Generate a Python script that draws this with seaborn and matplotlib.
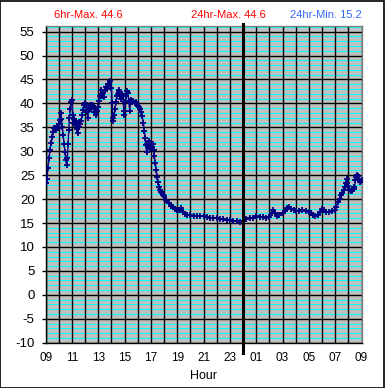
import matplotlib
matplotlib.use("Agg")
import matplotlib.pyplot as plt
from matplotlib.patches import Rectangle
import seaborn as sns
import pandas as pd

# readings, clock time (rolls over midnight) and temperature
clock = [
    "09:00", "09:05", "09:10", "09:15", "09:20", "09:25", "09:30", "09:35", "09:40", "09:45",
    "09:50", "09:55", "10:00", "10:05", "10:08", "10:12", "10:16", "10:20", "10:24", "10:28",
    "10:32", "10:36", "10:39", "10:42", "10:45", "10:48", "10:52", "10:56", "11:00", "11:03",
    "11:06", "11:10", "11:14", "11:18", "11:22", "11:26", "11:30", "11:34", "11:38", "11:42",
    "11:46", "11:50", "11:55", "12:00", "12:04", "12:08", "12:12", "12:16", "12:20", "12:25",
    "12:30", "12:35", "12:40", "12:45", "12:50", "12:55", "13:00", "13:04", "13:08", "13:12",
    "13:16", "13:20", "13:25", "13:30", "13:35", "13:40", "13:45", "13:50", "13:55", "14:00",
    "14:03", "14:06", "14:09", "14:12", "14:16", "14:20", "14:24", "14:28", "14:32", "14:36",
    "14:40", "14:44", "14:48", "14:52", "14:56", "14:59", "15:03", "15:07", "15:11", "15:15",
    "15:19", "15:23", "15:27", "15:31", "15:35", "15:40", "15:45", "15:50", "15:55", "16:00",
    "16:05", "16:10", "16:15", "16:20", "16:25", "16:30", "16:33", "16:36", "16:40", "16:44",
    "16:48", "16:52", "16:56", "17:00", "17:04", "17:08", "17:12", "17:16", "17:20", "17:24",
    "17:28", "17:32", "17:36", "17:40", "17:45", "17:50", "17:55", "18:00", "18:10", "18:20",
    "18:30", "18:40", "18:50", "19:00", "19:10", "19:17", "19:25", "19:35", "19:45", "20:00",
    "20:15", "20:30", "20:45", "21:00", "21:15", "21:30", "21:45", "22:00", "22:15", "22:30",
    "22:45", "23:00", "23:15", "23:30", "23:45", "00:00", "00:15", "00:30", "00:45", "01:00",
    "01:15", "01:30", "01:45", "02:00", "02:10", "02:18", "02:27", "02:35", "02:45", "03:00",
    "03:10", "03:20", "03:30", "03:40", "03:50", "04:00", "04:15", "04:30", "04:45", "05:00",
    "05:10", "05:20", "05:30", "05:40", "05:50", "06:00", "06:10", "06:20", "06:30", "06:45",
    "07:00", "07:05", "07:12", "07:20", "07:27", "07:33", "07:38", "07:43", "07:47", "07:52",
    "07:56", "08:00", "08:05", "08:12", "08:17", "08:24", "08:28", "08:32", "08:36", "08:40",
    "08:44", "08:48", "08:52", "08:56", "09:00",
]
temp = [
    23.3, 24.2, 26.5, 28.5, 30.3, 31.8, 33.0, 34.1, 34.8, 34.5,
    35.3, 34.9, 35.8, 36.6, 37.9, 36.8, 35.0, 33.3, 31.5, 29.8,
    28.2, 27.1, 28.6, 31.5, 34.5, 37.0, 38.8, 40.3, 40.7, 37.6,
    36.0, 36.8, 35.5, 36.4, 34.6, 33.8, 35.0, 36.2, 35.6, 36.4,
    37.5, 38.6, 39.6, 40.0, 39.3, 38.2, 37.0, 38.8, 39.6, 38.9,
    39.7, 39.4, 38.2, 39.1, 37.6, 38.4, 39.2, 40.5, 41.6, 42.7,
    41.5, 42.2, 41.4, 42.8, 43.5, 43.0, 44.1, 44.0, 44.6, 43.2,
    40.0, 37.0, 36.3, 37.5, 38.8, 40.2, 41.5, 41.9, 42.4, 42.7,
    41.8, 41.0, 42.0, 41.6, 38.5, 37.6, 40.2, 41.5, 42.6, 42.1,
    40.4, 38.5, 40.3, 40.8, 40.3, 40.6, 40.0, 40.3, 39.8, 39.5,
    39.2, 38.8, 38.2, 37.3, 36.0, 34.3, 32.8, 31.3, 29.8, 31.6,
    30.8, 32.2, 30.4, 31.4, 30.9, 31.5, 30.2, 29.0, 27.6, 26.0,
    24.6, 23.5, 22.6, 21.9, 21.5, 21.2, 20.9, 20.6, 19.9, 19.1,
    18.6, 18.3, 17.9, 17.7, 17.8, 18.2, 17.4, 16.9, 16.7, 16.6,
    16.5, 16.5, 16.4, 16.4, 16.3, 16.1, 16.0, 16.0, 15.9, 15.8,
    15.7, 15.6, 15.5, 15.4, 15.2, 15.5, 15.9, 16.1, 16.0, 16.4,
    16.2, 16.3, 16.1, 16.3, 17.0, 17.7, 17.1, 16.5, 16.6, 17.0,
    17.6, 18.1, 18.4, 18.0, 17.7, 17.5, 17.6, 17.7, 17.6, 17.3,
    17.0, 16.6, 16.4, 16.6, 17.4, 17.9, 17.7, 17.4, 17.3, 17.5,
    17.8, 18.4, 19.4, 20.1, 20.8, 21.3, 21.9, 22.6, 23.3, 24.1,
    23.4, 22.8, 21.9, 21.7, 21.8, 22.1, 22.5, 23.9, 24.6, 25.0,
    24.8, 24.0, 23.6, 23.8, 23.9,
]

hour_ticks = list(range(9, 34))
hour_labels = ["09", "", "11", "", "13", "", "15", "", "17", "", "19", "", "21", "",
               "23", "", "01", "", "03", "", "05", "", "07", "", "09"]
y_ticks = list(range(-10, 56, 5))
y_minor = [v for v in range(-9, 57) if v % 5 != 0]

header_left = "6hr-Max. 44.6"
header_mid = "24hr-Max. 44.6"
header_right = "24hr-Min. 15.2"

# clock strings -> running hours (9 .. 33)
hours = []
offset = 0
for c in clock:
    h, m = c.split(":")
    t = int(h) + int(m) / 60 + offset
    if hours and t < hours[-1]:
        offset += 24
        t += 24
    hours.append(t)

df = pd.DataFrame({"Hour": hours, "Temp": temp})

plt.rcParams["font.family"] = ["Liberation Sans", "DejaVu Sans"]

fig = plt.figure(figsize=(3.85, 3.88), dpi=100)
ax = fig.add_axes([0.1187, 0.1168, 0.8203, 0.8165])
ax.set_facecolor("#c0c0c0")

# grid drawn by hand so the layering matches (cyan < black rows < black columns)
for v in y_minor:
    ax.axhline(v, color="#00ffff", linewidth=0.75, zorder=0.5)
for v in y_ticks:
    ax.axhline(v, color="black", linewidth=1.0, zorder=0.7)
for h in hour_ticks:
    ax.axvline(h, color="black", linewidth=1.0, zorder=0.8)

sns.lineplot(data=df, x="Hour", y="Temp", ax=ax, color="#000080", linewidth=1.0,
             marker="+", markersize=5, markeredgewidth=1.3, markeredgecolor="#000080",
             sort=False, zorder=3)

ax.set_xlim(9, 33)
ax.set_ylim(-10, 56.2)
ax.set_xticks(hour_ticks)
ax.set_xticklabels(hour_labels, fontsize=8.5)
ax.set_yticks(y_ticks)
ax.set_yticklabels([str(v) for v in y_ticks], fontsize=9.5)

ax.tick_params(axis="x", length=0, pad=7)
ax.tick_params(axis="y", length=3, width=1, pad=5)

ax.set_xlabel("Hour", fontsize=9, labelpad=4)
ax.set_ylabel("")

for side in ["left", "bottom"]:
    ax.spines[side].set_color("black")
    ax.spines[side].set_linewidth(1)
for side in ["top", "right"]:
    ax.spines[side].set_color("#808080")
    ax.spines[side].set_linewidth(1)

# midnight marker
ax.axvline(24, ymin=-0.033, ymax=1.006, color="black", linewidth=2.2,
           clip_on=False, zorder=4)

fig.text(88 / 385, 1 - 15 / 388, header_left, color="#ff0000", fontsize=8,
         ha="center", va="center")
fig.text(228 / 385, 1 - 15 / 388, header_mid, color="#ff0000", fontsize=8,
         ha="center", va="center")
fig.text(326 / 385, 1 - 15 / 388, header_right, color="#3366ff", fontsize=8,
         ha="center", va="center")

fig.patches.append(Rectangle((0.001, 0.001), 0.997, 0.997, transform=fig.transFigure,
                             fill=False, edgecolor="black", linewidth=1.2))

fig.savefig("out.png", dpi=100)
